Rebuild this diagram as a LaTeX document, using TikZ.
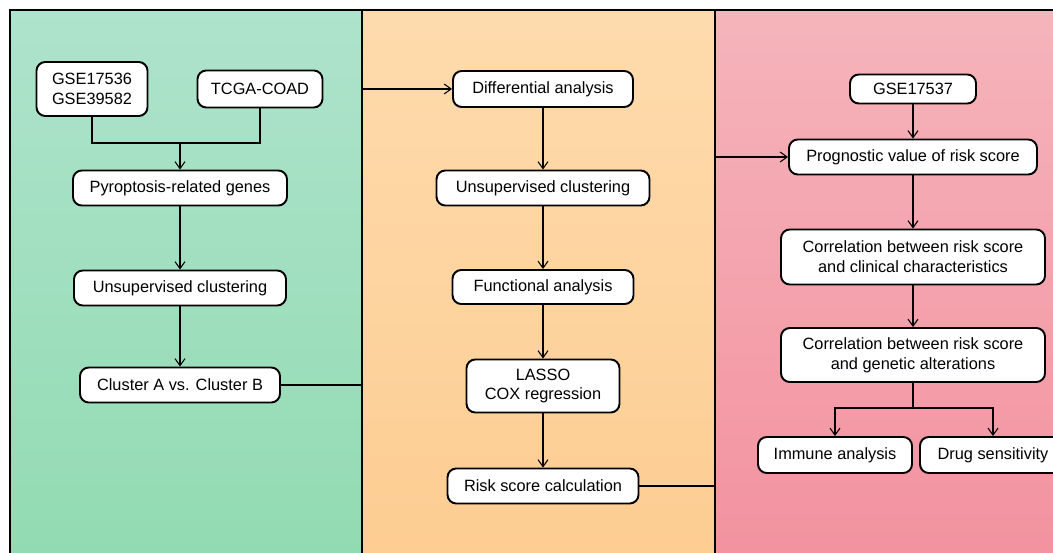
\documentclass[tikz,border=0pt]{standalone}
\usepackage{fontspec}
\setmainfont{Liberation Sans}
\usetikzlibrary{arrows.meta}
\definecolor{grnT}{RGB}{174,227,204}
\definecolor{grnB}{RGB}{146,219,178}
\definecolor{orgT}{RGB}{254,219,173}
\definecolor{orgB}{RGB}{253,205,146}
\definecolor{pnkT}{RGB}{245,180,187}
\definecolor{pnkB}{RGB}{243,146,160}
\begin{document}
\begin{tikzpicture}[x=0.02cm,y=-0.02cm,
    box/.style={draw,line width=1.1pt,rounded corners=5pt,fill=white,align=center,inner sep=0pt,
        font=\fontsize{9.3}{11.3}\selectfont},
    sz/.style 2 args={minimum width=#1*0.02cm,minimum height=#2*0.02cm},
    ln/.style={line width=0.6pt},
    arr/.style={line width=0.6pt,-{Straight Barb[length=1.4mm,width=2mm]}}]
\useasboundingbox (0,0) rectangle (1053,553);
% panels
\shade[top color=grnT,bottom color=grnB] (10,10) rectangle (362,553);
\shade[top color=orgT,bottom color=orgB] (362,10) rectangle (715,553);
\shade[top color=pnkT,bottom color=pnkB] (715,10) rectangle (1053,553);
\draw[ln] (10,553) -- (10,10) -- (1053,10);
\draw[ln] (362,10) coordinate (divA) -- (362,553);
\draw[ln] (715,10) coordinate (divB) -- (715,553);

% left panel
\node[box,sz={111}{54}] (gse) at (92,89) {GSE17536\\GSE39582};
\node[box,sz={125}{37}] (tcga) at (260,89) {TCGA-COAD};
\node[box,sz={214}{35}] (pyro) at (180,188) {Pyroptosis-related genes};
\node[box,sz={212}{35}] (unsA) at (180,288) {Unsupervised clustering};
\node[box,sz={200}{35}] (clus) at (180,385) {Cluster A vs. Cluster B};
\coordinate (jA) at (180,143);
\draw[ln] (gse.south) |- (jA) -| (tcga.south);
\draw[arr] (jA) -- (pyro.north);
\draw[arr] (pyro) -- (unsA);
\draw[arr] (unsA) -- (clus);

% middle panel
\node[box,sz={180}{36}] (diff) at (543,89) {Differential analysis};
\node[box,sz={213}{35}] (unsB) at (543,188) {Unsupervised clustering};
\node[box,sz={181}{34}] (func) at (543,287) {Functional analysis};
\node[box,sz={153}{53}] (lasso) at (543,386) {LASSO\\COX regression};
\node[box,sz={191}{35}] (risk) at (543,486) {Risk score calculation};
\foreach \a/\b in {diff/unsB,unsB/func,func/lasso,lasso/risk}
    \draw[arr] (\a) -- (\b);
\draw[arr] (clus.east) -- (clus.east -| divA) |- (diff.west);

% right panel
\node[box,sz={126}{29}] (gse3) at (913,89) {GSE17537};
\node[box,sz={248}{35}] (prog) at (913,157) {Prognostic value of risk score};
\node[box,sz={264}{55}] (clin) at (913,257) {Correlation between risk score\\and clinical characteristics};
\node[box,sz={264}{54}] (gene) at (913,355) {Correlation between risk score\\and genetic alterations};
\node[box,sz={154}{36}] (immune) at (835,455) {Immune analysis};
\node[box,sz={146}{36}] (drug) at (993,455) {Drug sensitivity};
\foreach \a/\b in {gse3/prog,prog/clin,clin/gene}
    \draw[arr] (\a) -- (\b);
\draw[arr] (risk.east) -- (risk.east -| divB) |- (prog.west);
\coordinate (jB) at (913,408);
\draw[ln] (gene.south) -- (jB);
\draw[arr] (jB) -| (immune.north);
\draw[arr] (jB) -| (drug.north);
\end{tikzpicture}
\end{document}
